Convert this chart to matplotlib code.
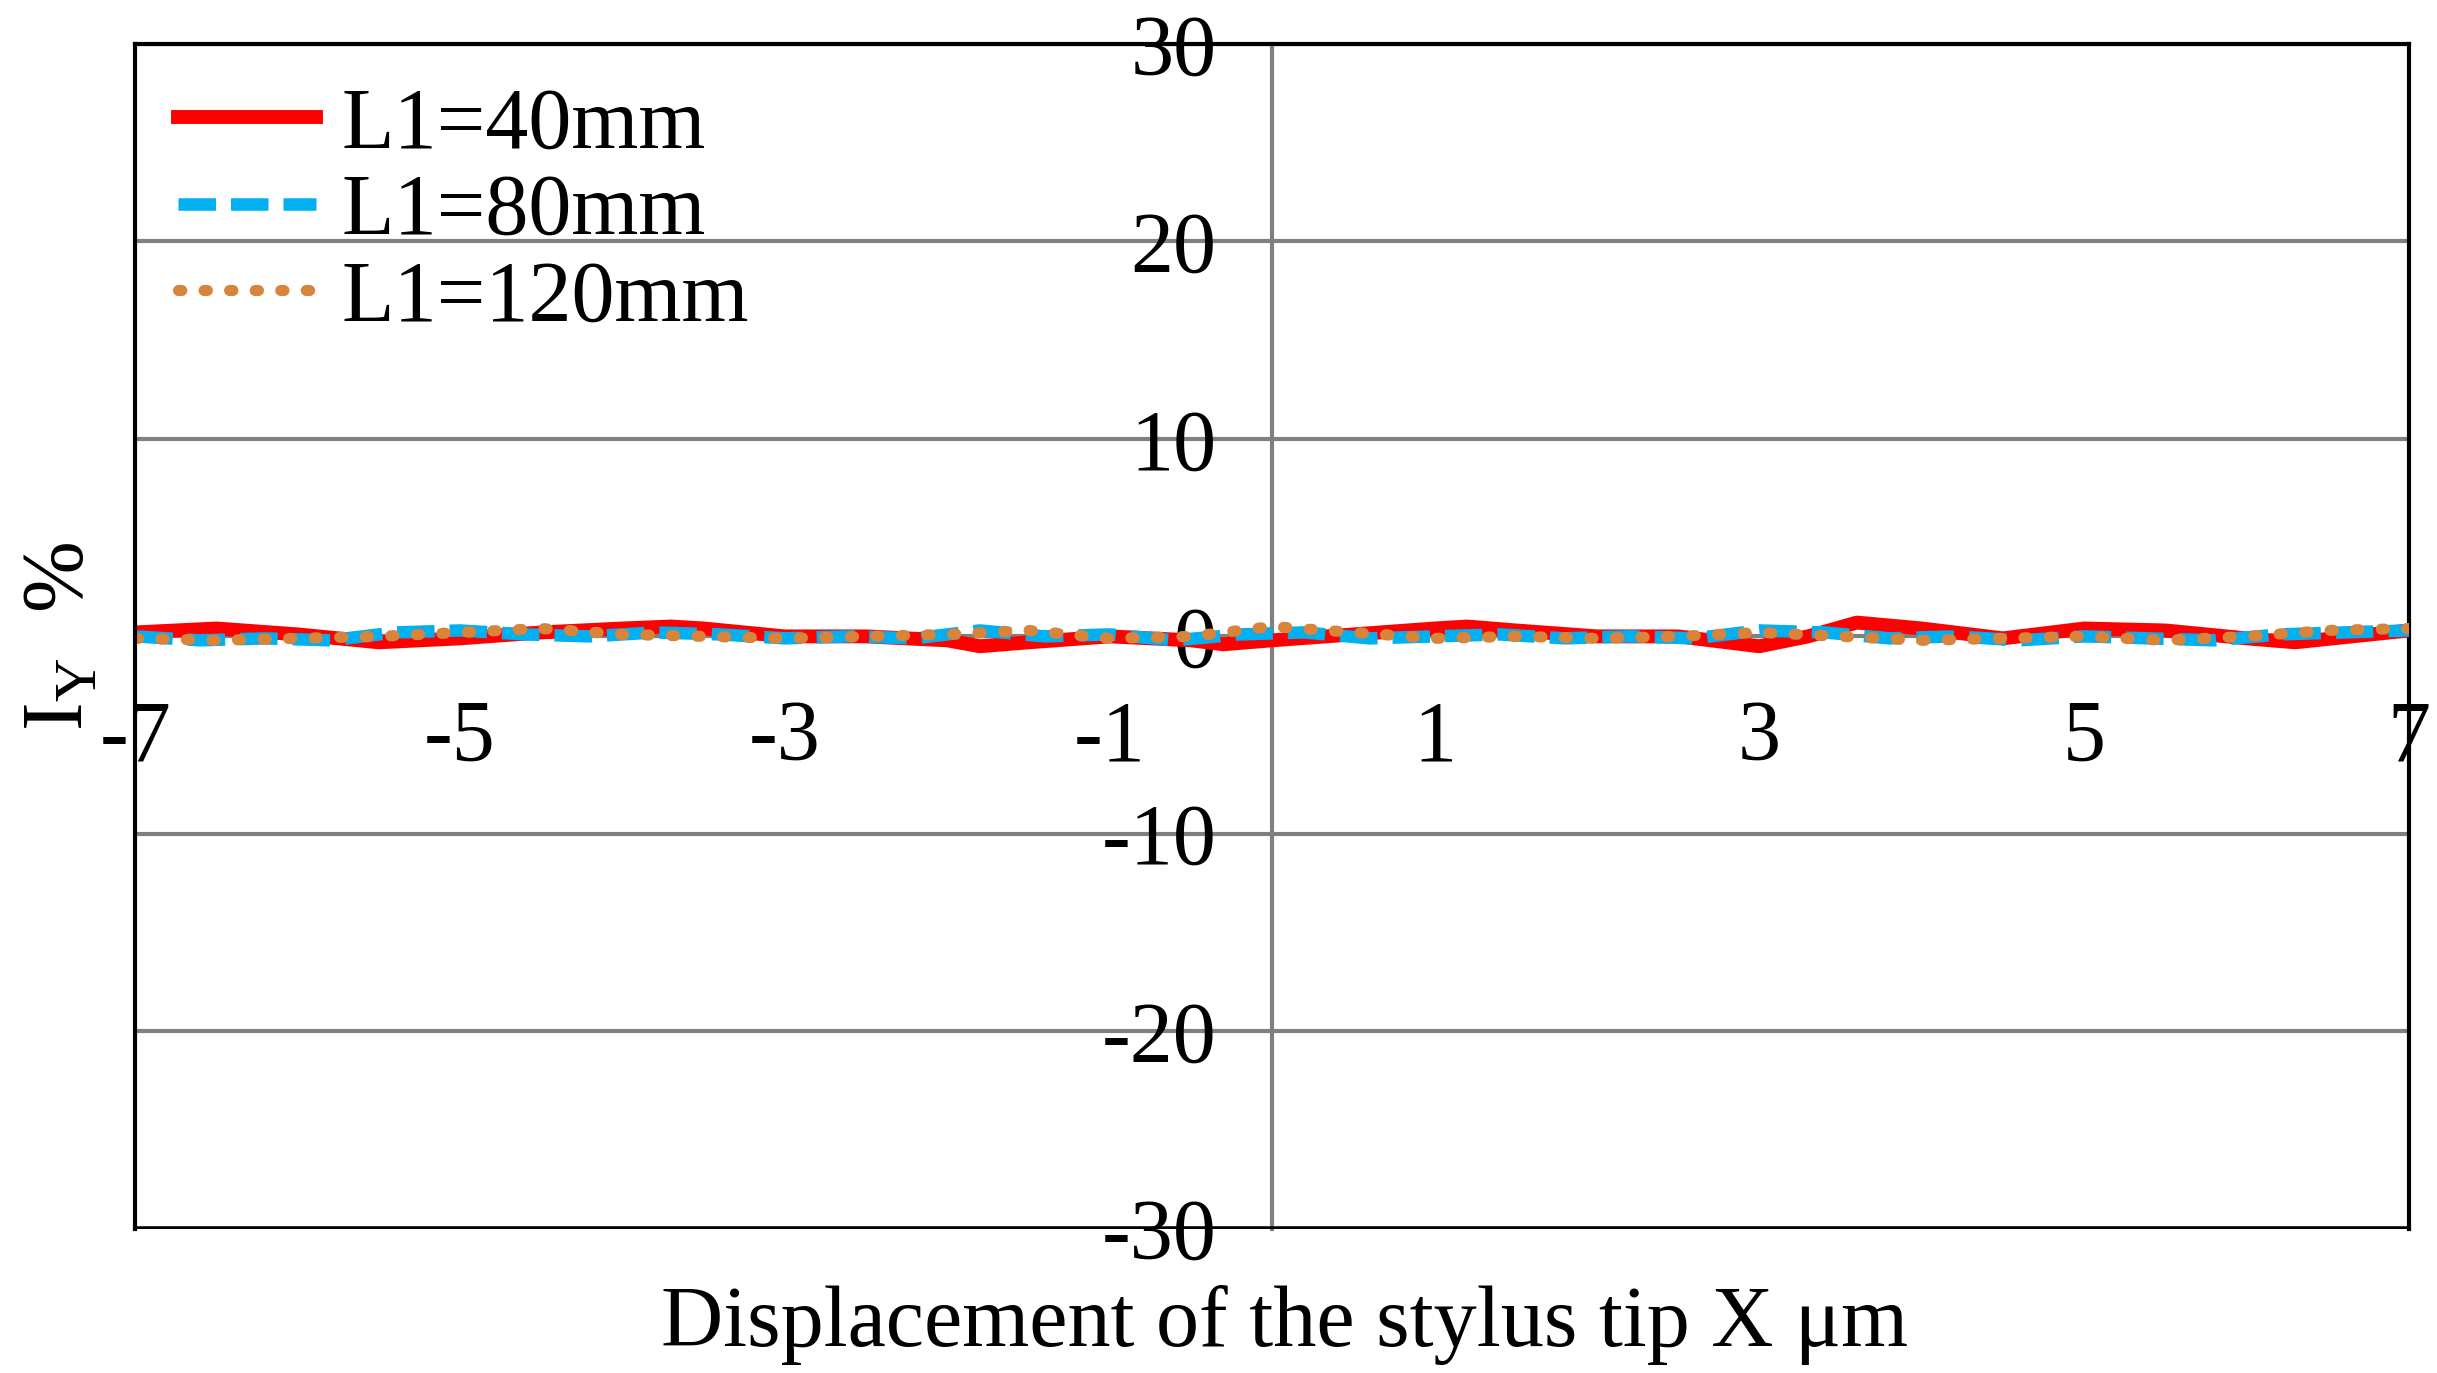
import matplotlib
matplotlib.use("Agg")
import matplotlib.pyplot as plt

plt.rcParams['font.family'] = ['Liberation Serif', 'DejaVu Serif']
plt.rcParams['axes.unicode_minus'] = False

x40 = [-7, -6.5, -6, -5.5, -5, -4.5, -4, -3.7, -3.5, -3, -2.5, -2, -1.8, -1.5, -1, -0.5, -0.3, 0, 0.5, 1, 1.2, 1.5, 2, 2.5, 2.8, 3, 3.3, 3.6, 4, 4.5, 5, 5.5, 6, 6.3, 7]
y40 = [0.2, 0.4, 0.1, -0.3, -0.1, 0.2, 0.4, 0.5, 0.4, 0.0, 0.0, -0.2, -0.5, -0.3, 0.0, -0.2, -0.4, -0.2, 0.1, 0.4, 0.5, 0.3, 0.0, 0.0, -0.3, -0.5, 0.0, 0.7, 0.4, -0.1, 0.4, 0.3, -0.1, -0.3, 0.3]
x80 = [-7, -6.6, -6.2, -5.8, -5.4, -5.0, -4.6, -4.2, -3.8, -3.4, -3.0, -2.6, -2.2, -1.8, -1.4, -1.0, -0.6, -0.2, 0.2, 0.6, 1.0, 1.4, 1.8, 2.2, 2.6, 3.0, 3.4, 3.8, 4.2, 4.6, 5.0, 5.4, 5.8, 6.2, 6.6, 7]
y80 = [0.0, -0.2, -0.1, -0.2, 0.2, 0.3, 0.1, 0.0, 0.2, 0.1, -0.1, 0.0, -0.1, 0.3, 0.0, 0.1, -0.2, 0.1, 0.2, -0.1, 0.0, 0.1, -0.1, 0.0, -0.1, 0.3, 0.2, -0.1, 0.0, -0.2, 0.0, -0.1, -0.2, 0.1, 0.2, 0.3]
x120 = [-7, -6.5, -6, -5.5, -5, -4.5, -4, -3.5, -3, -2.5, -2, -1.5, -1, -0.5, 0, 0.5, 1, 1.5, 2, 2.5, 3, 3.5, 4, 4.5, 5, 5.5, 6, 6.5, 7]
y120 = [-0.1, -0.2, -0.1, 0.0, 0.2, 0.4, 0.1, 0.0, -0.1, 0.0, 0.1, 0.3, -0.1, 0.0, 0.5, 0.2, -0.1, 0.0, -0.1, 0.0, 0.2, 0.0, -0.2, -0.1, 0.0, -0.2, 0.0, 0.3, 0.4]
xticks = [-7, -5, -3, -1, 1, 3, 5, 7]
yticks = [-30, -20, -10, 0, 10, 20, 30]

fs = 62
fig = plt.figure(figsize=(24.37, 13.73), dpi=100)
ax = fig.add_axes([0.0555, 0.105, 0.933, 0.863])
ax.set_xlim(-7, 7)
ax.set_ylim(-30, 30)
ax.plot(x40, y40, color='#ff0000', lw=10, label='L1=40mm', zorder=3)
ax.plot(x80, y80, color='#00b0f0', lw=9, ls=(0, (3, 1.2)), label='L1=80mm', zorder=4)
ax.plot(x120, y120, color='#d9843b', lw=8, ls=(0, (0.3, 2.0)), dash_capstyle='round', label='L1=120mm', zorder=5)

ax.set_yticks(yticks)
ax.set_yticklabels([str(v) for v in yticks])
ax.set_xticks(xticks)
ax.set_xticklabels([])
ax.yaxis.grid(True, color='#808080', lw=3)
ax.spines['left'].set_position(('data', 0))
ax.spines['left'].set_color('#808080')
ax.spines['left'].set_linewidth(3)
ax.spines['bottom'].set_visible(False)
for s in ['top', 'right']:
    ax.spines[s].set_linewidth(3)
ax.axhline(-30, color='black', lw=4, zorder=6)
ax.plot([-7, -7], [-30, 30], color='black', lw=3, clip_on=False, zorder=6)
ax.tick_params(axis='both', length=0, labelsize=fs, pad=40)
for v in xticks:
    ax.text(v, -3.2, str(v), ha='center', va='top', fontsize=fs)
ax.text(-7.45, 0, 'I$_\\mathregular{Y}$  %', rotation=90, ha='center', va='center', fontsize=fs)
fig.text(0.527, 0.035, 'Displacement of the stylus tip X μm', ha='center', va='center', fontsize=fs)
ax.legend(loc='upper left', fontsize=fs, frameon=False, handlelength=1.6, borderaxespad=0.1, labelspacing=0.08, handletextpad=0.3)
fig.savefig('out.png')
